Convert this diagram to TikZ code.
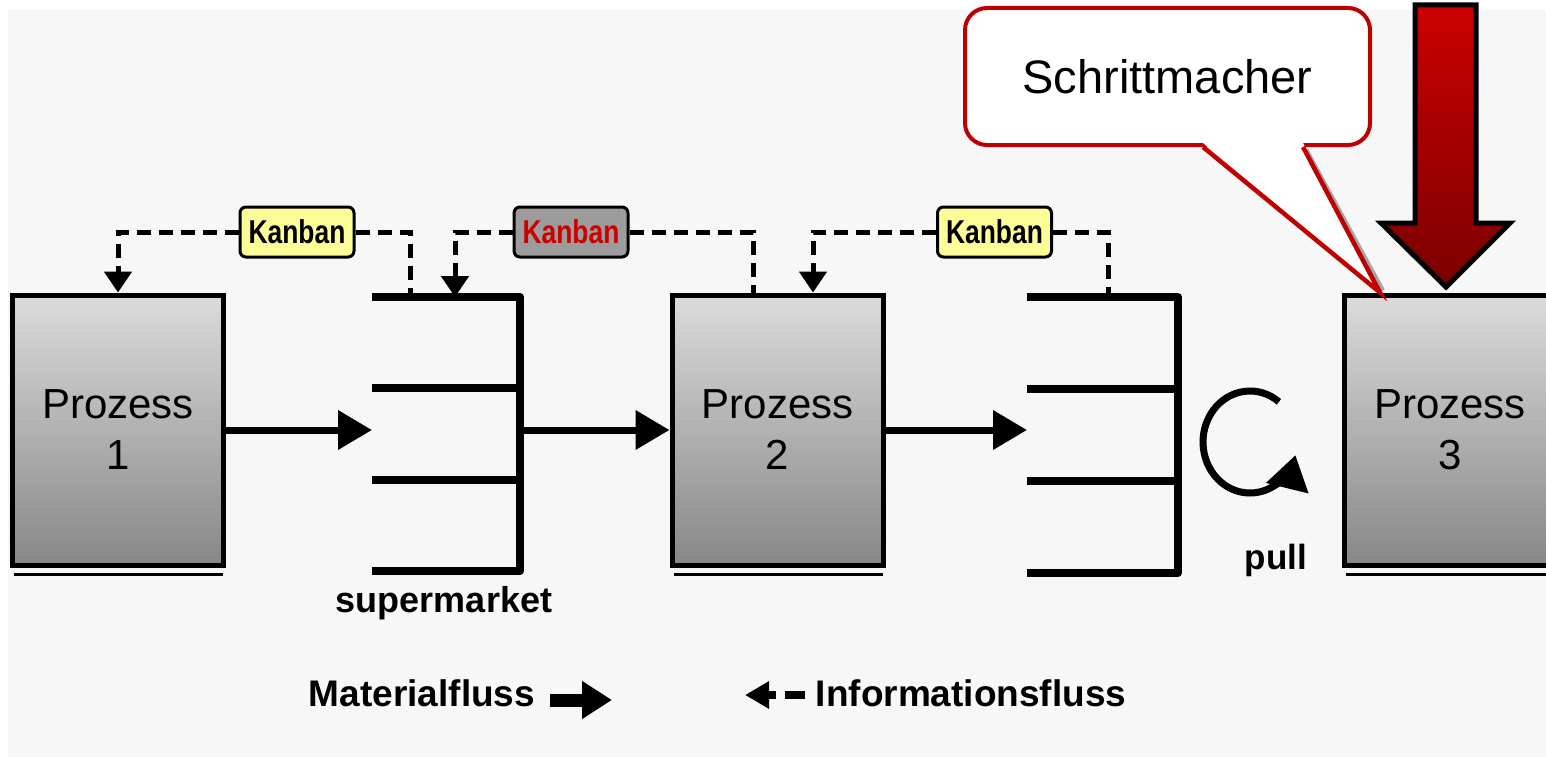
\documentclass[tikz,border=0pt]{standalone}
\usepackage{fontspec}
\setmainfont{Liberation Sans}
\newfontfamily\condfont[FakeStretch=0.8]{Liberation Sans}
\usetikzlibrary{arrows.meta,calc}

\definecolor{kyellow}{HTML}{FDFD98}
\definecolor{kgray}{HTML}{9C9C9C}
\definecolor{kred}{HTML}{CC0000}
\definecolor{cred}{HTML}{C00000}
\definecolor{rtop}{HTML}{CC0000}
\definecolor{rbot}{HTML}{7A0000}

\begin{document}
\begin{tikzpicture}[x=1pt,y=-1pt,
  proc/.style={draw=black, line width=5pt, top color=black!14, bottom color=black!47,
    minimum width=211pt, minimum height=270pt, inner sep=0pt, align=center,
    font=\fontsize{42}{51}\selectfont},
  procbase/.style={line width=3pt, black},
  kanban/.style={draw=black, line width=3pt, rounded corners=6pt, fill=kyellow,
    minimum width=114pt, minimum height=50pt, inner sep=0pt,
    font=\condfont\bfseries\fontsize{33}{36}\selectfont},
  store/.style={inner sep=0pt, outer sep=0pt},
  shelf/.style={line width=8pt, line join=round},
  mat/.style={line width=7pt, -{Triangle[width=38pt,length=34pt]}},
  info/.style={line width=5pt, dash pattern=on 14pt off 8pt},
  infoarrow/.style={info, -{Triangle[width=27pt,length=21pt]}},
  callout/.style={draw=cred, line width=4pt, fill=white, rounded corners=22pt,
    minimum width=405pt, minimum height=137pt, inner sep=0pt,
    font=\fontsize{47}{56}\selectfont},
  lbl/.style={font=\bfseries\fontsize{36}{40}\selectfont, inner sep=0pt, anchor=base},
]
\useasboundingbox (0,0) rectangle (1546,757);

% paper
\fill[white] (0,0) rectangle (1546,757);
\fill[black!3] (8,10) rectangle (1546,757);

% process boxes
\node[proc] (p1) at (118,430) {Prozess\\1};
\node[proc] (p2) at (777.5,430) {Prozess\\2};
\node[proc] (p3) at (1450,430) {Prozess\\3};
\foreach \p in {p1,p2,p3}
  \draw[procbase] ($(\p.south west)+(4,7)$) -- ($(\p.south east)+(-3,7)$);

% supermarket shelves
\node[store, minimum width=148pt, minimum height=274pt] (sm1) at (446,434) {};
\node[store, minimum width=151pt, minimum height=276pt] (sm2) at (1102.5,435) {};
\foreach \s in {sm1,sm2} {
  \draw[shelf] (\s.north west) -- (\s.north east) -- (\s.south east) -- (\s.south west);
  \draw[shelf] ($(\s.north west)!1/3!(\s.south west)$) -- ($(\s.north east)!1/3!(\s.south east)$);
  \draw[shelf] ($(\s.north west)!2/3!(\s.south west)$) -- ($(\s.north east)!2/3!(\s.south east)$);
}

% material flow
\draw[mat] (p1.east) -- (p1.east -| sm1.west);
\draw[mat] (sm1.east |- p2.west) -- (p2.west);
\draw[mat] (p2.east) -- (p2.east -| sm2.west);

% kanban cards
\node[kanban] (k1) at (297,232) {Kanban};
\node[kanban, fill=kgray, text=kred] (k2) at (571,232) {Kanban};
\node[kanban] (k3) at (994.5,232) {Kanban};

% information flow
\draw[infoarrow] (k1.west) -| (p1.north);
\draw[info] (k1.east) -| ([xshift=-36pt]sm1.north);
\draw[infoarrow] (k2.west) -| ([xshift=9pt]sm1.north);
\draw[info] (k2.east) -| ([xshift=-24.5pt]p2.north);
\draw[infoarrow] (k3.west) -| ([xshift=35.5pt]p2.north);
\draw[info] (k3.east) -| ([xshift=5.5pt]sm2.north);

% pull loop
\coordinate (pullc) at (1250,442);
\draw[line width=7pt, -{Triangle[width=42pt,length=34pt]}]
  (pullc) ++(-52:47 and 51) arc[start angle=-52, end angle=-345, x radius=47, y radius=51];
\node[lbl, font=\bfseries\fontsize{35}{40}\selectfont] (pull) at (1276,569) {pull};
\node[lbl] (smlabel) at (444,612) {supermarket};

% pacemaker callout
\node[callout] (pace) at (1167.5,76.5) {Schrittmacher};
\coordinate (tip) at ([xshift=38pt]p3.north west);
\draw[black!35, line width=4pt] ($(pace.south)+(139,3)$) -- ($(tip)+(3,-2)$);
\fill[white] ($(pace.south)+(35.5,-4)$) -- ($(pace.south)+(135.5,-4)$) -- (tip) -- cycle;
\draw[cred, line width=4.5pt, line join=miter]
  ($(pace.south)+(35.5,0)$) -- (tip) -- ($(pace.south)+(135.5,0)$);

% pacemaker arrow
\path[draw=black, line width=5pt, line join=miter, top color=rtop, bottom color=rbot]
  (1415,5) -- (1476,5) -- (1476,223) -- (1510,223) -- (1446,287) -- (1381,223) -- (1415,223) -- cycle;

% legend
\node[lbl, font=\bfseries\fontsize{37}{40}\selectfont] (matlbl) at (422,706) {Materialfluss};
\coordinate (m1) at (550,700);
\coordinate (m2) at (612,700);
\draw[line width=13pt, -{Triangle[width=36pt,length=30pt]}] (m1) -- (m2);
\coordinate (i1) at (805,695);
\coordinate (i2) at (745,695);
\draw[line width=8pt, dash pattern=on 20pt off 9pt, -{Triangle[width=26pt,length=24pt]}] (i1) -- (i2);
\node[lbl, font=\bfseries\fontsize{37}{40}\selectfont] (inflbl) at (971,706) {Informationsfluss};
\end{tikzpicture}
\end{document}
